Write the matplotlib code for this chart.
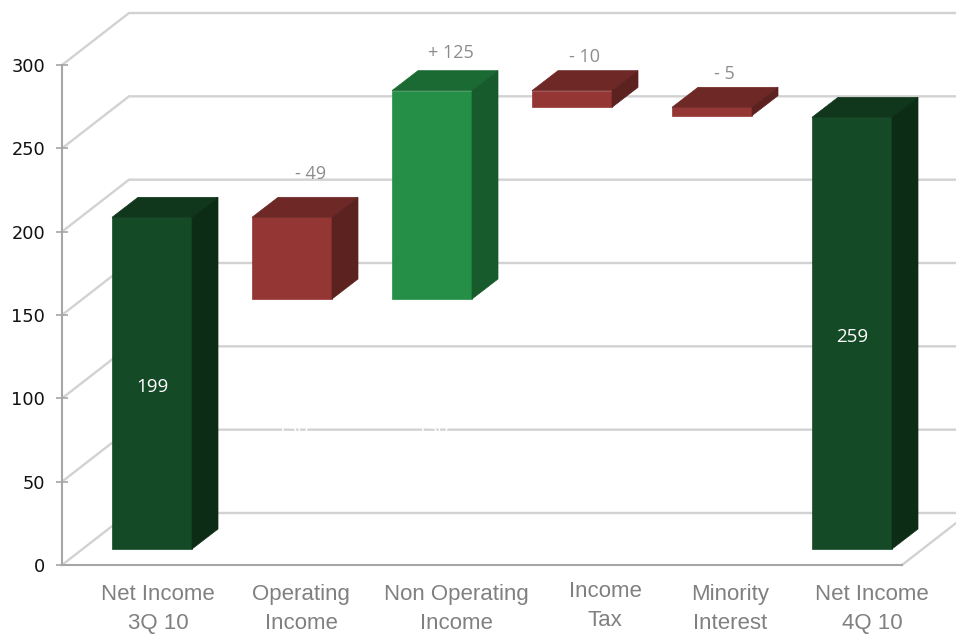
import matplotlib
matplotlib.use("Agg")
import matplotlib.pyplot as plt
from matplotlib.patches import Polygon
from matplotlib.transforms import Affine2D

# Datos del grafico (waterfall)
categories = ["Net Income\n3Q 10", "Operating\nIncome", "Non Operating\nIncome",
              "Income\nTax", "Minority\nInterest", "Net Income\n4Q 10"]
bar_bottoms = [0, 150, 150, 265, 260, 0]
bar_tops = [199, 199, 275, 275, 265, 259]
bar_labels = ["199", "- 49", "+ 125", "- 10", "- 5", "259"]
hidden_labels = ["150", "150"]
y_ticks = [0, 50, 100, 150, 200, 250, 300]

# Colores: frente, tapa, lado
DARK = ("#154a27", "#10371b", "#0c2c15")
RED = ("#943634", "#6e2826", "#5c221f")
GREEN = ("#268f47", "#1b6a33", "#175a2b")
bar_colors = [DARK, RED, GREEN, RED, RED, DARK]

W, H = 956, 634
BAND_PX = 140.0
UNIT_PX = 500 / 300

# Desplazamientos de la perspectiva, en pixeles
GAP = (20, 16)
DEPTH = (26, 20)
WALL = (67, 52)
BAR_W = 80


def dx(px):
    return px / BAND_PX


def dy(px):
    return px / UNIT_PX


def cuboid(ax, i, y0, y1, colors):
    left = i - dx(BAR_W) / 2 + dx(GAP[0])
    right = left + dx(BAR_W)
    b = y0 + dy(GAP[1])
    t = y1 + dy(GAP[1])
    ox, oy = dx(DEPTH[0]), dy(DEPTH[1])
    faces = [
        ([(left, b), (right, b), (right, t), (left, t)], colors[0]),
        ([(left, t), (right, t), (right + ox, t + oy), (left + ox, t + oy)], colors[1]),
        ([(right, b), (right + ox, b + oy), (right + ox, t + oy), (right, t)], colors[2]),
    ]
    for pts, c in faces:
        ax.add_patch(Polygon(pts, closed=True, facecolor=c, edgecolor=c,
                             linewidth=0.5, clip_on=False, zorder=3))


plt.rcParams["font.family"] = ["DejaVu Sans"]
fig = plt.figure(figsize=(W / 100, H / 100), dpi=100)
ax = fig.add_axes([62 / W, (H - 565) / H, 840 / W, 500 / H])
ax.set_xlim(-0.5, 5.5)
ax.set_ylim(0, 300)

# Paredes y lineas de cuadricula en perspectiva
wx, wy = dx(WALL[0]), dy(WALL[1])
for v in y_ticks:
    ax.plot([-0.5, -0.5 + wx, 5.5 + wx], [v, v + wy, v + wy], color="#d2d2d2",
            linewidth=1.7, clip_on=False, zorder=1, solid_joinstyle="miter")
ax.plot([5.5, 5.5 + wx], [0, wy], color="#d2d2d2", linewidth=1.7, clip_on=False, zorder=1)

# Barras
for i in range(len(categories)):
    cuboid(ax, i, bar_bottoms[i], bar_tops[i], bar_colors[i])

# Etiquetas de valor: (dx, dy) en pixeles respecto al frente de la barra
label_nudges = [None, (19, 43), (19, 38), (13, 34), (12, 33), None]
for i, txt in enumerate(bar_labels):
    if label_nudges[i] is None:
        mid = (bar_bottoms[i] + bar_tops[i]) / 2
        ax.annotate(txt, (i, mid), xytext=(GAP[0], GAP[1] - 4), textcoords="offset pixels",
                    ha="center", va="center", color="white", fontsize=13.5,
                    family="Open Sans", zorder=5, annotation_clip=False)
    else:
        ax.annotate(txt, (i, bar_tops[i]), xytext=(GAP[0] + label_nudges[i][0], label_nudges[i][1] + GAP[1]),
                    textcoords="offset pixels", ha="center", va="center", color="#8c8c8c",
                    fontsize=13, family="Open Sans", zorder=5, annotation_clip=False)

# Etiquetas blancas de la serie base, solo se notan sobre la cuadricula
for i, txt in zip([1, 2], hidden_labels):
    ax.annotate(txt, (i, bar_bottoms[i] / 2), xytext=(GAP[0], GAP[1] - 6), textcoords="offset pixels",
                ha="center", va="center", color="white", fontsize=13.5,
                family="Open Sans", zorder=2)

# Ejes
for side in ["top", "right"]:
    ax.spines[side].set_visible(False)
for side in ["left", "bottom"]:
    ax.spines[side].set_color("#a6a6a6")
    ax.spines[side].set_linewidth(1.5)
ax.patch.set_visible(False)
ax.set_yticks(y_ticks)
ax.tick_params(axis="y", direction="inout", length=8, width=1.2, color="#a6a6a6",
               labelsize=12.8, labelcolor="#111111", pad=8)
ax.set_xticks(range(len(categories)))
ax.set_xticklabels(categories, family="Liberation Sans",
                   fontsize=16, color="#808080", linespacing=1.5)
ax.tick_params(axis="x", length=0, pad=0)

# Cada etiqueta de categoria va algo corrida, como en el original (pixeles)
tick_nudges = [(26, -19), (29, -19), (44, -19), (53, -16), (38, -19), (40, -19)]
for lab, (nx, ny) in zip(ax.get_xticklabels(), tick_nudges):
    lab.set_transform(lab.get_transform() + Affine2D().translate(nx, ny))

fig.savefig("out.png", dpi=100)
